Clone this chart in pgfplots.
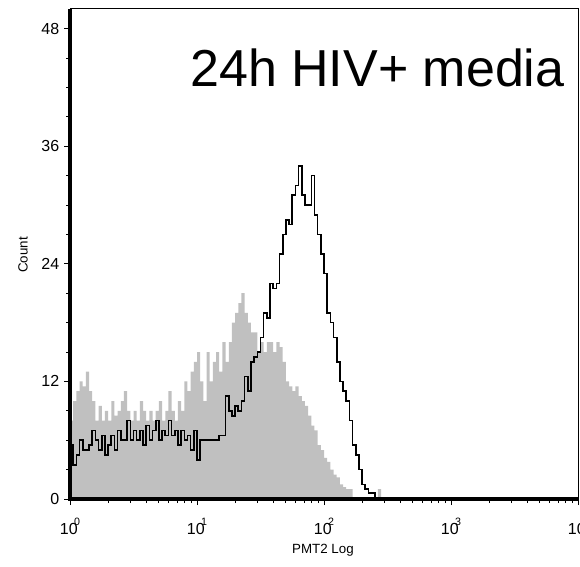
\documentclass[border=0pt]{standalone}
\usepackage{fontspec}
\setmainfont{Liberation Sans}
\usepackage{pgfplots}
\pgfplotsset{compat=1.18}
\usepackage{pgfplotstable}
\definecolor{histgray}{RGB}{192,192,192}
\pgfplotstableread{
x g b
0.000 8 5.5
0.025 10 3.5
0.050 11 4.5
0.075 12 6
0.100 11.5 5
0.125 13 5
0.150 11 5.5
0.175 10 7
0.200 8 6
0.225 9.5 5
0.250 8 6.5
0.275 9 4.5
0.300 8 5.5
0.325 10 6.5
0.350 8.5 5
0.375 9 7
0.400 10 6
0.425 11 6
0.450 9 8
0.475 8 6
0.500 9 7
0.525 8 6
0.550 10 7
0.575 9 5.5
0.600 8 7.5
0.625 9 6
0.650 8 7
0.675 9 8
0.700 10 6
0.725 8 7
0.750 9 6.5
0.775 11 8
0.800 9 6.5
0.825 8 7
0.850 10 5.5
0.875 9 7
0.900 12 6
0.925 11 6.5
0.950 13 5
0.975 14 7
1.000 15 4
1.025 12 6
1.050 10 6
1.075 15 6
1.100 12 6
1.125 14 6
1.150 15 6
1.175 13 6.5
1.200 16 6.5
1.225 14 10.5
1.250 16 9
1.275 18 8.5
1.300 19 9.5
1.325 20 9
1.350 21 10
1.375 19 12.5
1.400 18 11
1.425 17 14
1.450 17 14.5
1.475 15 15
1.500 16 16.5
1.525 15 19
1.550 16 18.5
1.575 16 22
1.600 15 21.5
1.625 16 22
1.650 15.5 25
1.675 14 27
1.700 12 28.5
1.725 11.5 28
1.750 11 31
1.775 11.5 32
1.800 10.5 34
1.825 10 31
1.850 9.5 30
1.875 8.5 30
1.900 7.5 33
1.925 7 29
1.950 5.5 27
1.975 5 25
2.000 4.2 23
2.025 3.8 19
2.050 3 18
2.075 2.5 16.5
2.100 2.2 14
2.125 1.5 12
2.150 1.2 11
2.175 1 10
2.200 1 8
2.225 0 5.5
2.250 0 4.5
2.275 0 3
2.300 0 1.5
2.325 0 1
2.350 0 0.6
2.375 0 0.6
2.400 0 0
2.425 1 0
2.450 0 0
}\histdata
\newcommand{\tl}[1]{10\kern-0.22em\raisebox{0.55em}{\fontsize{8}{8}\selectfont #1}}
\begin{document}
\begin{tikzpicture}
\path[use as bounding box] (-52.5pt,-50.25pt) rectangle (382.5pt,374.25pt);
\begin{axis}[
  scale only axis, width=381pt, height=367.5pt,
  at={(0,0)}, anchor=south west,
  xmin=0, xmax=4, ymin=0, ymax=50,
  xtick={0,1,2,3,4},
  xticklabels={\tl{0},\tl{1},\tl{2},\tl{3},\tl{4}},
  minor xtick={0.30103,0.47712,0.60206,0.69897,0.77815,0.84510,0.90309,0.95424,
    1.30103,1.47712,1.60206,1.69897,1.77815,1.84510,1.90309,1.95424,
    2.30103,2.47712,2.60206,2.69897,2.77815,2.84510,2.90309,2.95424,
    3.30103,3.47712,3.60206,3.69897,3.77815,3.84510,3.90309,3.95424},
  ytick={0,12,24,36,48},
  minor y tick num=3,
  tick pos=left, tick align=outside,
  major tick length=4.5pt, minor tick length=3pt,
  tick style={black, line width=0.6pt},
  axis line style={line width=0.75pt},
  /pgf/number format/assume math mode=true,
  tick label style={font=\fontsize{12}{14}\selectfont},
  xticklabel style={yshift=-6.5pt},
  xlabel={PMT2 Log}, ylabel={Count},
  label style={font=\fontsize{11.5}{13}\selectfont},
  every axis x label/.style={at={(rel axis cs:0.498,-0.104)}, anchor=center},
  every axis y label/.style={at={(rel axis cs:-0.0925,0.498)}, rotate=90, anchor=center},
  clip=false,
]
\addplot[const plot, fill=histgray, draw=none] table[x=x, y=g] {\histdata} \closedcycle;
\addplot[const plot, black, line width=1.2pt] table[x=x, y=b] {\histdata};
\draw[line width=3pt] (rel axis cs:0,1) -- (rel axis cs:0,0) -- (rel axis cs:1,0);
\node[font=\fontsize{39}{42}\selectfont] at (axis cs:2.42,44.0) {24h HIV+ media};
\end{axis}
\end{tikzpicture}
\end{document}
